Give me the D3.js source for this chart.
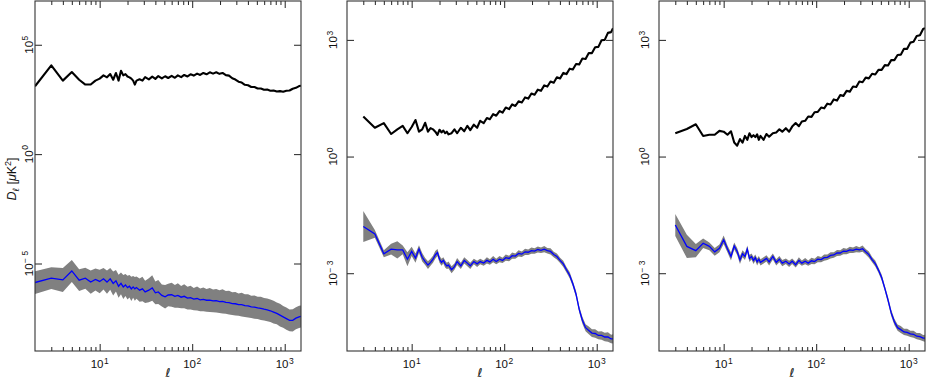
<!DOCTYPE html>
<html>
<head>
<meta charset="utf-8">
<script src="https://cdn.jsdelivr.net/npm/d3@7"></script>
<style>
    body { margin: 0; background: #fff; }
    svg { display: block; font-family: "Liberation Sans", Arial, sans-serif; }
</style>
</head>
<body>
<svg id="chart" width="926" height="379"></svg>
<script>
// multipoles: low-ell part differs per panel, high-ell part is shared
const ellLowA = [2, 3, 4, 5, 6, 7, 8, 9, 10, 11, 12, 13, 14, 15, 16, 17, 18, 19, 20, 21, 22, 23, 24, 25];
const ellLowB = [3, 4, 5, 6, 7, 8, 9, 10, 11, 12, 13, 14, 15, 16, 17, 18, 19, 20, 21, 22, 23, 24, 25];
const ellHigh = [27, 29, 31, 34, 37, 40, 43, 47, 51, 55, 60, 65, 70, 76, 82, 89, 96, 104, 113, 122,
    132, 143, 155, 168, 182, 197, 213, 231, 250, 271, 293, 317, 343, 371, 402, 435, 471, 510, 552, 598,
    647, 700, 758, 821, 889, 962, 1042, 1128, 1221, 1322, 1431, 1500];

// all values are log10(D_ell / muK^2)
// panel 1
const signal1 = [3.10, 4.06, 3.36, 3.75, 3.40, 3.18, 3.18, 3.36, 3.45, 3.60, 3.51, 3.66, 3.40, 3.71, 3.36, 3.81,
    3.60, 3.66, 3.55, 3.51, 3.45, 3.36, 3.18, 3.36,
    3.42, 3.36, 3.52, 3.42, 3.54, 3.44, 3.57, 3.46, 3.56, 3.48, 3.58, 3.49, 3.60, 3.52, 3.62, 3.55, 3.65, 3.59,
    3.68, 3.62, 3.71, 3.65, 3.74, 3.68, 3.74, 3.67, 3.71, 3.61, 3.59, 3.47, 3.41, 3.31, 3.27, 3.17, 3.15, 3.07,
    3.07, 3.00, 3.00, 2.94, 2.95, 2.90, 2.91, 2.86, 2.88, 2.85, 2.90, 2.91, 2.99, 3.03, 3.11, 3.13];
const residual1 = [-5.87, -5.67, -5.75, -5.34, -5.76, -5.67, -5.85, -5.73, -5.82, -5.70, -5.85, -5.70, -5.91, -5.79,
    -6.04, -5.91, -6.07, -5.98, -6.10, -6.04, -6.16, -6.07, -6.16, -6.10,
    -6.22, -6.16, -6.30, -6.22, -6.12, -6.34, -6.30, -6.46, -6.52, -6.44, -6.43, -6.50, -6.46, -6.54, -6.50, -6.58,
    -6.56, -6.63, -6.60, -6.66, -6.64, -6.68, -6.67, -6.71, -6.70, -6.74, -6.73, -6.78, -6.79, -6.83, -6.84, -6.88,
    -6.88, -6.93, -6.94, -6.98, -6.99, -7.03, -7.05, -7.09, -7.12, -7.16, -7.22, -7.28, -7.36, -7.44, -7.52, -7.60,
    -7.60, -7.50, -7.44, -7.42];
const spread1 = [0.52, 0.50, 0.55, 0.50, 0.50, 0.48, 0.53, 0.50, 0.54, 0.49, 0.53, 0.50, 0.55, 0.49, 0.53, 0.50,
    0.55, 0.50, 0.54, 0.51, 0.55, 0.50, 0.54, 0.51,
    0.53, 0.56, 0.51, 0.55, 0.58, 0.52, 0.55, 0.50, 0.54, 0.51, 0.55, 0.52, 0.56, 0.51, 0.55, 0.52, 0.54, 0.51,
    0.55, 0.52, 0.54, 0.52, 0.55, 0.52, 0.54, 0.52, 0.55, 0.52, 0.54, 0.52, 0.54, 0.51, 0.54, 0.52, 0.53, 0.51,
    0.53, 0.51, 0.53, 0.51, 0.52, 0.51, 0.52, 0.50, 0.52, 0.50, 0.51, 0.50, 0.51, 0.50, 0.51, 0.50];

// panel 2
const signal2 = [1.03, 0.74, 0.86, 0.58, 0.70, 0.79, 0.60, 0.76, 0.94, 0.64, 0.70, 0.87, 0.64, 0.73, 0.70, 0.64,
    0.56, 0.69, 0.62, 0.67, 0.60, 0.64, 0.57,
    0.60, 0.70, 0.60, 0.74, 0.65, 0.79, 0.68, 0.82, 0.74, 0.92, 0.86, 0.99, 0.96, 1.09, 1.05, 1.17, 1.13, 1.26,
    1.22, 1.34, 1.30, 1.42, 1.39, 1.52, 1.49, 1.62, 1.59, 1.72, 1.69, 1.83, 1.80, 1.93, 1.90, 2.04, 2.01, 2.15,
    2.12, 2.26, 2.24, 2.38, 2.37, 2.52, 2.51, 2.66, 2.66, 2.81, 2.82, 2.99, 3.00, 3.18, 3.20, 3.30];
const residual2 = [-1.80, -1.99, -2.50, -2.38, -2.40, -2.40, -2.64, -2.44, -2.61, -2.38, -2.59, -2.70, -2.79, -2.72,
    -2.64, -2.53, -2.47, -2.64, -2.72, -2.67, -2.76, -2.81, -2.79,
    -2.91, -2.83, -2.70, -2.81, -2.67, -2.74, -2.81, -2.70, -2.76, -2.70, -2.74, -2.67, -2.71, -2.64, -2.70, -2.64,
    -2.67, -2.60, -2.62, -2.55, -2.56, -2.49, -2.51, -2.45, -2.46, -2.42, -2.43, -2.39, -2.41, -2.38, -2.42, -2.44,
    -2.52, -2.57, -2.67, -2.76, -2.91, -3.05, -3.27, -3.54, -3.93, -4.21, -4.40, -4.47, -4.54, -4.55, -4.60, -4.60,
    -4.64, -4.64, -4.69, -4.69];
const spread2 = [0.40, 0.10, 0.09, 0.14, 0.22, 0.11, 0.18, 0.12, 0.12, 0.10, 0.11, 0.09, 0.10, 0.09, 0.09, 0.10,
    0.09, 0.09, 0.09, 0.08, 0.09, 0.08, 0.09,
    0.09, 0.08, 0.09, 0.08, 0.08, 0.08, 0.08, 0.07, 0.08, 0.07, 0.07, 0.08, 0.07, 0.08, 0.07, 0.08, 0.07, 0.08,
    0.07, 0.08, 0.07, 0.08, 0.07, 0.08, 0.07, 0.08, 0.07, 0.08, 0.07, 0.08, 0.07, 0.08, 0.07, 0.08, 0.07, 0.08,
    0.07, 0.08, 0.07, 0.08, 0.08, 0.09, 0.09, 0.10, 0.10, 0.11, 0.10, 0.11, 0.11, 0.12, 0.11, 0.12];

// panel 3
const signal3 = [0.60, 0.71, 0.83, 0.53, 0.56, 0.56, 0.66, 0.64, 0.56, 0.65, 0.36, 0.28, 0.45, 0.36, 0.53, 0.43,
    0.60, 0.50, 0.55, 0.50, 0.57, 0.43, 0.53,
    0.43, 0.58, 0.51, 0.60, 0.62, 0.70, 0.64, 0.73, 0.64, 0.77, 0.86, 0.78, 0.90, 0.92, 1.03, 1.02, 1.14, 1.15,
    1.26, 1.24, 1.36, 1.34, 1.47, 1.44, 1.58, 1.56, 1.69, 1.67, 1.80, 1.79, 1.93, 1.91, 2.03, 2.01, 2.13, 2.11,
    2.23, 2.23, 2.35, 2.34, 2.48, 2.48, 2.61, 2.62, 2.77, 2.77, 2.93, 2.95, 3.10, 3.12, 3.28, 3.30];
const residual3 = [-1.76, -2.31, -2.42, -2.23, -2.31, -2.45, -2.36, -2.14, -2.38, -2.57, -2.30, -2.44, -2.66, -2.50,
    -2.57, -2.38, -2.62, -2.57, -2.67, -2.60, -2.71, -2.64, -2.72,
    -2.67, -2.62, -2.71, -2.57, -2.72, -2.64, -2.74, -2.69, -2.76, -2.69, -2.78, -2.67, -2.74, -2.69, -2.74, -2.68,
    -2.70, -2.64, -2.65, -2.60, -2.59, -2.54, -2.53, -2.48, -2.48, -2.43, -2.44, -2.40, -2.41, -2.38, -2.40, -2.37,
    -2.45, -2.52, -2.65, -2.75, -2.92, -3.11, -3.39, -3.69, -4.02, -4.25, -4.40, -4.45, -4.51, -4.52, -4.56, -4.57,
    -4.62, -4.63, -4.67, -4.67];
const spread3 = [0.28, 0.30, 0.17, 0.12, 0.10, 0.10, 0.10, 0.11, 0.09, 0.10, 0.09, 0.09, 0.10, 0.09, 0.09, 0.09,
    0.09, 0.08, 0.09, 0.08, 0.09, 0.08, 0.08,
    0.08, 0.08, 0.09, 0.08, 0.08, 0.08, 0.08, 0.07, 0.08, 0.07, 0.07, 0.08, 0.07, 0.08, 0.07, 0.08, 0.07, 0.08,
    0.07, 0.08, 0.07, 0.08, 0.07, 0.08, 0.07, 0.08, 0.07, 0.08, 0.07, 0.08, 0.07, 0.08, 0.07, 0.08, 0.07, 0.08,
    0.07, 0.08, 0.07, 0.08, 0.08, 0.08, 0.08, 0.09, 0.08, 0.09, 0.08, 0.09, 0.08, 0.09, 0.08, 0.09];

const xMajor = [10, 100, 1000];
const xDomain = [2, 1500];

const panels = [
    { left: 35, ell: ellLowA.concat(ellHigh), signal: signal1, residual: residual1, spread: spread1,
      yDomain: [1e-9, 1e7], yMajor: [1e-5, 1, 1e5], yExp: ['\u2212 5', '0', '5'], labelGap: 2.5, ylabel: true },
    { left: 347, ell: ellLowB.concat(ellHigh), signal: signal2, residual: residual2, spread: spread2,
      yDomain: [1e-5, 1e4], yMajor: [1e-3, 1, 1e3], yExp: ['\u2212 3', '0', '3'], labelGap: 10, ylabel: false },
    { left: 659, ell: ellLowB.concat(ellHigh), signal: signal3, residual: residual3, spread: spread3,
      yDomain: [1e-5, 1e4], yMajor: [1e-3, 1, 1e3], yExp: ['\u2212 3', '0', '3'], labelGap: 10, ylabel: false },
];

const width = 266;
const height = 350;
const plotTop = 1;
const svg = d3.select('#chart');

function powerLabel(text, exp) {
    text.append('tspan').text('10');
    text.append('tspan').attr('dy', -4.5).attr('dx', 0.5).attr('font-size', 8.5).text(exp);
}

panels.forEach((p, idx) => {
    const x = d3.scaleLog().domain(xDomain).range([0, width]);
    const y = d3.scaleLog().domain(p.yDomain).range([height, 0]);

    const g = svg.append('g').attr('transform', `translate(${p.left},${plotTop})`);

    g.append('clipPath').attr('id', `clip${idx}`)
        .append('rect').attr('width', width).attr('height', height);

    const rows = p.ell.map((ell, i) => ({
        ell, tt: p.signal[i], nl: p.residual[i], s: p.spread[i]
    }));

    const plot = g.append('g').attr('clip-path', `url(#clip${idx})`);

    const band = d3.area()
        .x(d => x(d.ell))
        .y0(d => y(Math.pow(10, d.nl - d.s)))
        .y1(d => y(Math.pow(10, d.nl + d.s)));

    plot.append('path').datum(rows)
        .attr('d', band)
        .attr('fill', '#808080');

    plot.append('path').datum(rows)
        .attr('d', d3.line().x(d => x(d.ell)).y(d => y(Math.pow(10, d.nl))))
        .attr('fill', 'none')
        .attr('stroke', '#0000ff')
        .attr('stroke-width', 1.3);

    plot.append('path').datum(rows)
        .attr('d', d3.line().x(d => x(d.ell)).y(d => y(Math.pow(10, d.tt))))
        .attr('fill', 'none')
        .attr('stroke', '#000')
        .attr('stroke-width', 2.1)
        .attr('stroke-linejoin', 'round');

    // ticks, pointing inwards on all four sides
    const minor = x.ticks().filter(t => xMajor.indexOf(t) < 0 && t > xDomain[0]);
    const tickStyle = sel => {
        sel.select('.domain').remove();
        sel.selectAll('line').attr('stroke', '#222');
    };
    g.append('g').attr('transform', `translate(0,${height})`)
        .call(d3.axisBottom(x).tickValues(xMajor).tickSize(-7).tickFormat('')).call(tickStyle);
    g.append('g').attr('transform', `translate(0,${height})`)
        .call(d3.axisBottom(x).tickValues(minor).tickSize(-4).tickFormat('')).call(tickStyle);
    g.append('g')
        .call(d3.axisTop(x).tickValues(xMajor).tickSize(-7).tickFormat('')).call(tickStyle);
    g.append('g')
        .call(d3.axisTop(x).tickValues(minor).tickSize(-4).tickFormat('')).call(tickStyle);
    g.append('g')
        .call(d3.axisLeft(y).tickValues(p.yMajor).tickSize(-7).tickFormat('')).call(tickStyle);
    g.append('g').attr('transform', `translate(${width},0)`)
        .call(d3.axisRight(y).tickValues(p.yMajor).tickSize(-7).tickFormat('')).call(tickStyle);

    g.append('rect')
        .attr('width', width).attr('height', height)
        .attr('fill', 'none').attr('stroke', '#333').attr('stroke-width', 1.1);

    // tick labels
    xMajor.forEach((t, i) => {
        const lab = g.append('text')
            .attr('x', x(t)).attr('y', height + 17)
            .attr('text-anchor', 'middle').attr('font-size', 11.5).attr('fill', '#111');
        powerLabel(lab, String(i + 1));
    });
    p.yMajor.forEach((t, i) => {
        const lab = g.append('text')
            .attr('transform', `translate(${-p.labelGap},${y(t)}) rotate(-90)`)
            .attr('text-anchor', 'middle').attr('font-size', 11.5).attr('fill', '#111');
        powerLabel(lab, p.yExp[i]);
    });

    g.append('text')
        .attr('x', width / 2).attr('y', height + 26)
        .attr('text-anchor', 'middle')
        .attr('font-family', '"DejaVu Sans", sans-serif')
        .attr('font-style', 'italic').attr('font-size', 12)
        .attr('fill', '#111')
        .text('\u2113');

    if (p.ylabel) {
        const yl = g.append('text')
            .attr('transform', `translate(${-19},${height / 2 + 3}) rotate(-90)`)
            .attr('text-anchor', 'middle').attr('font-size', 12.5).attr('fill', '#111');
        yl.append('tspan').attr('font-style', 'italic').text('D');
        yl.append('tspan').attr('dy', 3).attr('font-size', 8.5).attr('font-style', 'italic')
            .attr('font-family', '"DejaVu Sans", sans-serif').text('\u2113');
        yl.append('tspan').attr('dy', -3).text(' [');
        yl.append('tspan').attr('font-style', 'italic').text('\u03bc');
        yl.append('tspan').text('K');
        yl.append('tspan').attr('dy', -5).attr('font-size', 9).text('2');
        yl.append('tspan').attr('dy', 5).text(']');
    }
});
</script>
</body>
</html>
